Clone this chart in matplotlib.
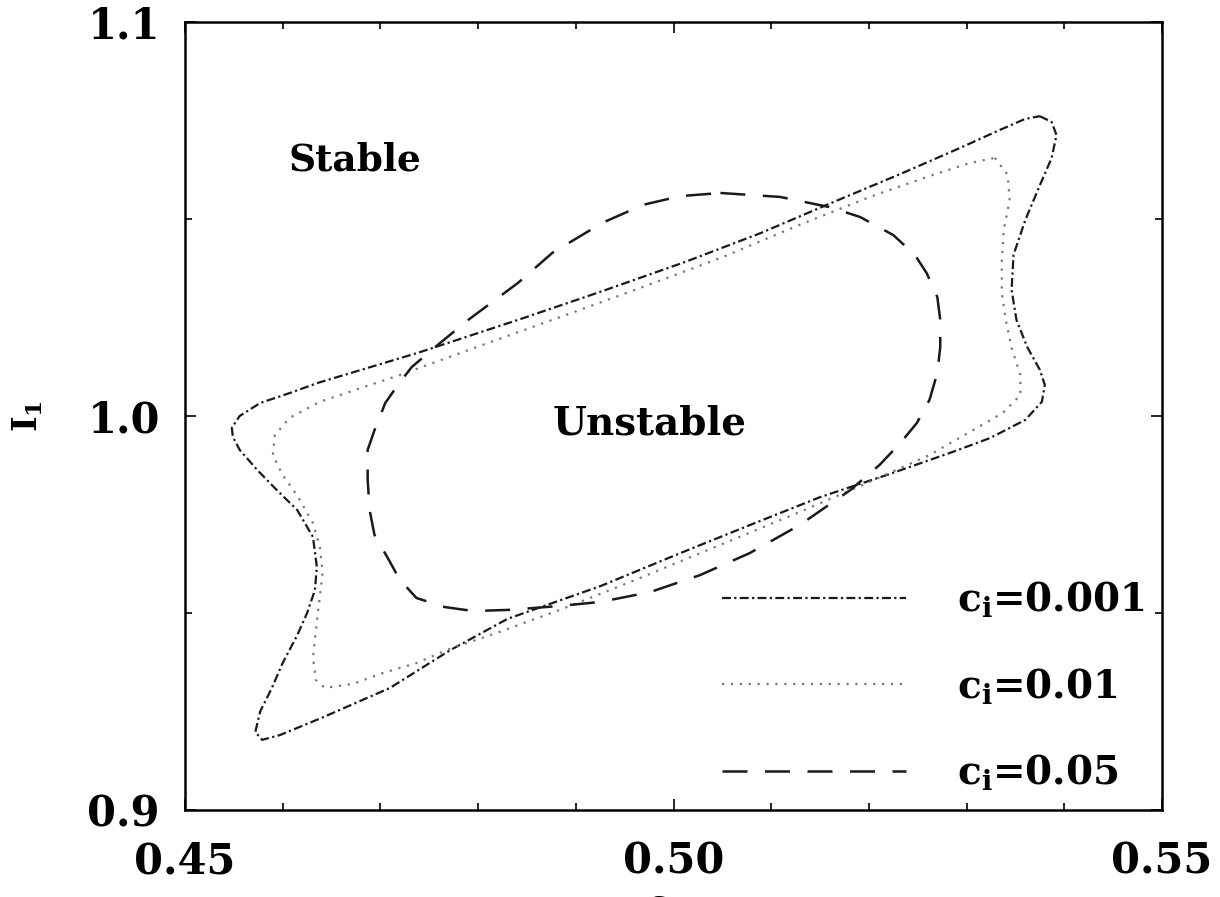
import matplotlib
matplotlib.use("Agg")
import matplotlib.pyplot as plt
from matplotlib.ticker import MultipleLocator, FixedLocator

# neutral curves (closed loops)
c001_x = [0.5375, 0.5387, 0.5392, 0.5387, 0.5375, 0.5360, 0.5348, 0.5346, 0.5351, 0.5362,
          0.5375, 0.5380, 0.5377, 0.5360, 0.5324, 0.5286, 0.5218, 0.5150, 0.5078, 0.5007,
          0.4925, 0.4830, 0.4771, 0.4710, 0.4641, 0.4597, 0.4579, 0.4572, 0.4577, 0.4589,
          0.4600, 0.4615, 0.4625, 0.4633, 0.4635, 0.4631, 0.4615, 0.4592, 0.4574, 0.4556,
          0.4549, 0.4548, 0.4556, 0.4577, 0.4607, 0.4636, 0.4738, 0.4841, 0.4925, 0.5012,
          0.5089, 0.5157, 0.5232, 0.5293, 0.5334, 0.5360, 0.5375]
c001_y = [1.0761, 1.0746, 1.0713, 1.0655, 1.0586, 1.0497, 1.0409, 1.0320, 1.0244, 1.0175,
          1.0117, 1.0079, 1.0036, 0.9990, 0.9944, 0.9909, 0.9850, 0.9794, 0.9723, 0.9652,
          0.9568, 0.9485, 0.9405, 0.9310, 0.9235, 0.9190, 0.9178, 0.9198, 0.9250, 0.9310,
          0.9373, 0.9444, 0.9500, 0.9558, 0.9617, 0.9693, 0.9761, 0.9817, 0.9863, 0.9914,
          0.9947, 0.9970, 1.0000, 1.0033, 1.0058, 1.0084, 1.0160, 1.0244, 1.0315, 1.0391,
          1.0464, 1.0536, 1.0614, 1.0680, 1.0726, 1.0754, 1.0761]

c01_x = [0.5329, 0.5342, 0.5344, 0.5338, 0.5336, 0.5336, 0.5340, 0.5346, 0.5355, 0.5355,
         0.5337, 0.5303, 0.5262, 0.5201, 0.5129, 0.5048, 0.4966, 0.4884, 0.4822, 0.4768,
         0.4737, 0.4703, 0.4672, 0.4643, 0.4634, 0.4631, 0.4636, 0.4641, 0.4638, 0.4631,
         0.4616, 0.4600, 0.4590, 0.4592, 0.4607, 0.4638, 0.4720, 0.4802, 0.4884, 0.4966,
         0.5048, 0.5129, 0.5201, 0.5262, 0.5303, 0.5329]
c01_y = [1.0655, 1.0612, 1.0548, 1.0472, 1.0396, 1.0312, 1.0244, 1.0173, 1.0104, 1.0053,
         1.0008, 0.9959, 0.9901, 0.9833, 0.9756, 0.9673, 0.9589, 0.9508, 0.9452, 0.9406,
         0.9373, 0.9348, 0.9320, 0.9310, 0.9330, 0.9388, 0.9500, 0.9602, 0.9668, 0.9728,
         0.9794, 0.9850, 0.9901, 0.9952, 0.9995, 1.0036, 1.0104, 1.0178, 1.0251, 1.0325,
         1.0401, 1.0485, 1.0556, 1.0609, 1.0642, 1.0655]

c05_x = [0.5048, 0.5109, 0.5160, 0.5191, 0.5225, 0.5247, 0.5259, 0.5270, 0.5273, 0.5273,
         0.5270, 0.5262, 0.5249, 0.5232, 0.5211, 0.5181, 0.5129, 0.5078, 0.5027, 0.4976,
         0.4925, 0.4884, 0.4833, 0.4795, 0.4766, 0.4737, 0.4720, 0.4707, 0.4694, 0.4689,
         0.4687, 0.4687, 0.4694, 0.4705, 0.4718, 0.4732, 0.4761, 0.4790, 0.4841, 0.4876,
         0.4927, 0.4969, 0.5007, 0.5048]
c05_y = [1.0566, 1.0556, 1.0530, 1.0505, 1.0459, 1.0409, 1.0363, 1.0302, 1.0244, 1.0175,
         1.0109, 1.0041, 0.9982, 0.9931, 0.9876, 0.9812, 0.9723, 0.9652, 0.9596, 0.9553,
         0.9528, 0.9518, 0.9508, 0.9505, 0.9515, 0.9538, 0.9584, 0.9642, 0.9698, 0.9761,
         0.9838, 0.9914, 0.9964, 1.0033, 1.0079, 1.0124, 1.0185, 1.0244, 1.0338, 1.0414,
         1.0490, 1.0536, 1.0558, 1.0566]

labels = [r"$\mathbf{c_i}$=0.001", r"$\mathbf{c_i}$=0.01", r"$\mathbf{c_i}$=0.05"]
x_ticks = [0.45, 0.50, 0.55]
x_ticklabels = ["0.45", "0.50", "0.55"]
y_ticks = [0.9, 1.0, 1.1]
y_ticklabels = ["0.9", "1.0", "1.1"]

plt.rcParams["font.family"] = "DejaVu Serif"
plt.rcParams["font.weight"] = "bold"
plt.rcParams["mathtext.fontset"] = "dejavuserif"

fig = plt.figure(figsize=(12.2, 8.97), dpi=100)
ax = fig.add_axes([0.1516, 0.097, 0.8009, 0.8785])

ax.plot(c001_x, c001_y, color="#1a1a1a", lw=1.6, ls=(0, (4, 1.5, 1, 1.5)), label=labels[0])
ax.plot(c01_x, c01_y, color="#777777", lw=1.6, ls=(0, (1, 3)), label=labels[1])
ax.plot(c05_x, c05_y, color="#1a1a1a", lw=1.8, ls=(0, (10, 7)), label=labels[2])

ax.text(0.4674, 1.065, "Stable", fontsize=27, fontweight="bold", ha="center", va="center")
ax.text(0.4976, 0.998, "Unstable", fontsize=28, fontweight="bold", ha="center", va="center")

ax.set_xlim(0.45, 0.55)
ax.set_ylim(0.9, 1.1)
ax.xaxis.set_major_locator(FixedLocator(x_ticks))
ax.set_xticklabels(x_ticklabels)
ax.yaxis.set_major_locator(FixedLocator(y_ticks))
ax.set_yticklabels(y_ticklabels)
ax.xaxis.set_minor_locator(MultipleLocator(0.01))
ax.yaxis.set_minor_locator(MultipleLocator(0.05))
ax.tick_params(which="both", direction="in", top=True, right=True, width=1.2)
ax.tick_params(which="major", length=8)
ax.tick_params(which="minor", length=5)
ax.tick_params(axis="x", labelsize=30, pad=22)
ax.tick_params(axis="y", labelsize=30, pad=18)
for sp in ax.spines.values():
    sp.set_linewidth(1.8)

ax.set_ylabel(r"$\mathbf{I_1}$", fontsize=24, rotation=90)
ax.yaxis.set_label_coords(-0.143, 0.5)
fig.text(0.545, -0.01, r"$\mathbf{c_r}$", fontsize=24, ha="center", va="center")

ax.legend(loc="lower right", frameon=False, fontsize=28, handlelength=4.75,
          handletextpad=1.3, labelspacing=1.2, borderaxespad=0.05)

fig.savefig("out.png", dpi=100)
